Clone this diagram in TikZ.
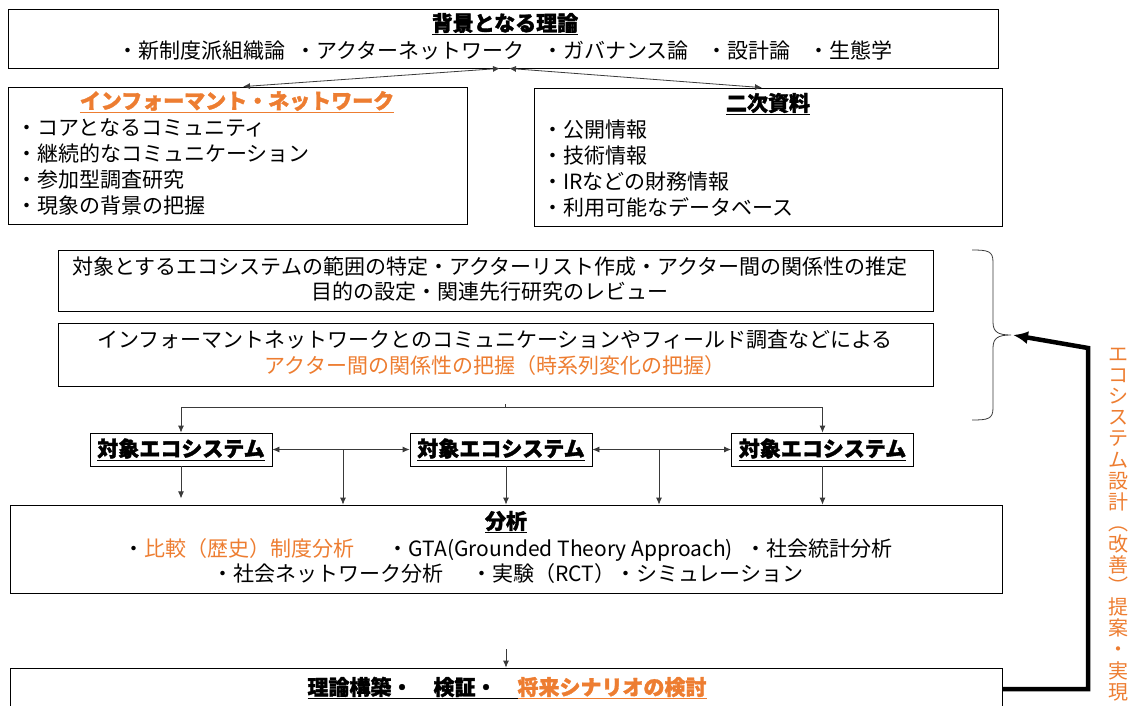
\documentclass[tikz,border=0pt]{standalone}
\usepackage{fontspec}
\setmainfont{Noto Sans CJK JP}[BoldFeatures={FakeBold=1.6}]
\usetikzlibrary{arrows.meta}
\definecolor{orng}{HTML}{ED7D31}
\definecolor{lgray}{HTML}{3A3A3A}
\begin{document}
\begin{tikzpicture}[x=1pt,y=-1pt,
  box/.style={draw=black, line width=0.8pt, inner sep=0pt},
  txt/.style={inner sep=0pt, font=\fontsize{21}{25.8}\selectfont},
  ttl/.style={inner sep=0pt, font=\fontsize{21}{25.8}\selectfont\bfseries},
  arr/.style={draw=lgray, line width=0.8pt, -{Latex[length=7pt,width=6pt]}},
  darr/.style={draw=lgray, line width=0.8pt, {Latex[length=7pt,width=6pt]}-{Latex[length=7pt,width=6pt]}},
  lin/.style={draw=lgray, line width=0.8pt},
  bigarr/.style={draw=black, line width=4.5pt, line join=miter, -{Latex[length=15pt,width=13pt]}}
]
\useasboundingbox (0,0) rectangle (1133,705);

% background theory
\node[box, minimum width=990pt, minimum height=59pt] (theory) at (503,38.5) {};
\node[ttl] (theoryT) at (505,24) {\underline{背景となる理論}};
\node[txt] (theoryL) at (505,51) {・新制度派組織論\hspace{0.45em}・アクターネットワーク\hspace{0.85em}・ガバナンス論\hspace{0.85em}・設計論\hspace{0.85em}・生態学};

% informant network
\node[box, minimum width=459pt, minimum height=137pt] (inform) at (237.5,155.5) {};
\node[ttl, text=orng] (informT) at (237,102) {\underline{インフォーマント・ネットワーク}};
\node[txt, align=left, anchor=west] (informL) at (16,167) {・コアとなるコミュニティ\\・継続的なコミュニケーション\\・参加型調査研究\\・現象の背景の把握};

% secondary data
\node[box, minimum width=468pt, minimum height=138pt] (second) at (768,157) {};
\node[ttl] (secondT) at (768,104) {\underline{二次資料}};
\node[txt, align=left, anchor=west] (secondL) at (542,168.5) {・公開情報\\・技術情報\\・IRなどの財務情報\\・利用可能なデータベース};

\draw[darr] ([xshift=5.5pt]inform.north) -- ([xshift=-3pt]theory.south);
\draw[darr] ([xshift=-6pt]second.north) -- ([xshift=6pt]theory.south);

% scope box
\node[box, minimum width=875pt, minimum height=61pt] (scope) at (495.5,280.5) {};
\node[txt, align=center] (scopeT) at (490,279) {対象とするエコシステムの範囲の特定・アクターリスト作成・アクター間の関係性の推定\\目的の設定・関連先行研究のレビュー};

% field box
\node[box, minimum width=875pt, minimum height=63pt] (field) at (495.5,354.5) {};
\node[txt, align=center] (fieldT) at (495,353) {インフォーマントネットワークとのコミュニケーションやフィールド調査などによる\\\textcolor{orng}{アクター間の関係性の把握（時系列変化の把握）}};

% brace
\draw[lgray, line width=0.8pt] (972,250) .. controls (988,250) and (993,251) .. (993,262) -- (993,322) .. controls (993,332) and (998,335) .. (1011,335) .. controls (998,335) and (993,338) .. (993,348) -- (993,408) .. controls (993,419) and (988,420) .. (972,420);
\coordinate (brtip) at (1013,335);

% eco systems
\node[box, ttl, minimum width=182pt, minimum height=33pt] (eco1) at (181,449.5) {\underline{対象エコシステム}};
\node[box, ttl, minimum width=182pt, minimum height=33pt] (eco2) at (501,449.5) {\underline{対象エコシステム}};
\node[box, ttl, minimum width=182pt, minimum height=33pt] (eco3) at (822.5,449.5) {\underline{対象エコシステム}};

\coordinate (hub) at (505,407);
\draw[lin] (hub) -- ++(0,-3);
\draw[arr] (hub) -| (eco1.north);
\draw[arr] (hub) -| (eco3.north);

% analysis
\node[box, minimum width=992pt, minimum height=88pt] (ana) at (506,549) {};
\node[ttl] (anaT) at (506,522) {\underline{分析}};
\node[txt, align=center] (anaL) at (508,561) {・\textcolor{orng}{比較（歴史）制度分析}\hspace{1.6em}・GTA(Grounded Theory Approach)\hspace{0.6em}・社会統計分析\\・社会ネットワーク分析\hspace{1.3em}・実験（RCT）・シミュレーション};

\draw[darr] (eco1.east) -- (eco2.west);
\draw[darr] (eco2.east) -- (eco3.west);
\coordinate (m1) at (343,449.5);
\coordinate (m2) at (659,449.5);
\draw[arr] (m1) -- (m1 |- ana.north);
\draw[arr] (m2) -- (m2 |- ana.north);
\draw[arr] (eco1.south) -- ++(0,32);
\draw[arr] ([xshift=5pt]eco2.south) -- ([xshift=5pt]eco2.south |- ana.north);
\draw[arr] (eco3.south) -- (eco3.south |- ana.north);

% theory building
\node[box, minimum width=992pt, minimum height=42pt] (theo) at (506,689) {};
\node[ttl] (theoT) at (507,688) {\underline{理論構築・\hspace{1em}検証・\hspace{1em}}{\color{orng}\underline{将来シナリオの検討}}};
\coordinate (gap) at (506,649);
\draw[arr] (gap) -- (theo.north);

% feedback arrow
\coordinate (c1) at (1088,689);
\coordinate (c2) at (1088,348);
\draw[bigarr] (theo.east) -- (c1) -- (c2) -- (brtip);

\node[inner sep=0pt, text=orng, align=center, anchor=north, font=\fontsize{20}{21.1}\selectfont] (vt) at (1118,348) {エ\\コ\\シ\\ス\\テ\\ム\\設\\計\\︵\\改\\善\\︶\\提\\案\\・\\実\\現};
\end{tikzpicture}
\end{document}
